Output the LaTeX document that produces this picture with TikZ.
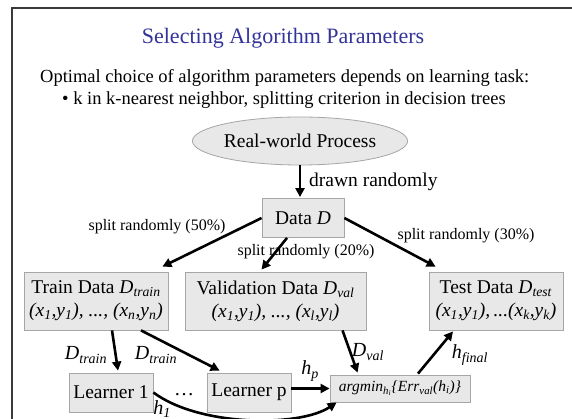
\documentclass[tikz,border=0pt]{standalone}
\usepackage{fontspec}
\setmainfont{Liberation Serif}
\usetikzlibrary{arrows.meta,calc,shapes.geometric}
\definecolor{titleblue}{HTML}{333399}
\definecolor{boxfill}{HTML}{E8E8E8}
\definecolor{boxline}{HTML}{A6A6A6}
\definecolor{frame}{HTML}{3A3A3A}

\newcommand{\lsub}[1]{\textsubscript{\textit{#1}}}

\begin{document}
\begin{tikzpicture}[x=1pt,y=-1pt,
    box/.style={draw=boxline,fill=boxfill,line width=0.8pt,inner sep=0pt,align=center,font=\fontsize{19.5}{23}\selectfont},
    lbl/.style={inner sep=0pt,font=\fontsize{16}{18}\selectfont},
    dlbl/.style={inner sep=0pt,font=\fontsize{20}{22}\selectfont},
    arr/.style={-{Triangle[length=9pt,width=9pt]},line width=2.6pt}]
  \useasboundingbox (0,0) rectangle (572,419);
  \draw[frame,line width=1.2pt] (12,440) -- (12,8) -- (600,8);
  % heading
  \node[font=\fontsize{22}{26}\selectfont,text=titleblue] (title) at (283,38) {Selecting Algorithm Parameters};
  \node[anchor=west,font=\fontsize{18.5}{22}\selectfont,inner sep=0pt] (intro) at (40,78) {Optimal choice of algorithm parameters depends on learning task:};
  \node[anchor=west,font=\fontsize{18.5}{22}\selectfont,inner sep=0pt] (bullet) at (62,100) {• k in k-nearest neighbor, splitting criterion in decision trees};
  % nodes
  \node[ellipse,draw=boxline,fill=boxfill,line width=0.8pt,minimum width=205pt,minimum height=48pt,inner sep=0pt,font=\fontsize{19.5}{23}\selectfont] (proc) at (300,141) {Real-world Process};
  \node[box,minimum width=82pt,minimum height=39pt] (data) at (303,218) {Data \textit{D}};
  \node[box,minimum width=144pt,minimum height=58pt] (train) at (96,301) {Train Data \textit{D}\lsub{train}\\\textit{(x\lsub{1},y\lsub{1}), ..., (x\lsub{n},y\lsub{n})}};
  \node[box,minimum width=181pt,minimum height=58pt] (valid) at (275.5,301) {Validation Data \textit{D}\lsub{val}\\\textit{(x\lsub{1},y\lsub{1}), ..., (x\lsub{l},y\lsub{l})}};
  \node[box,minimum width=134pt,minimum height=58pt] (test) at (496,301) {Test Data \textit{D}\lsub{test}\\\textit{(x\lsub{1},y\lsub{1}),\,...(x\lsub{k},y\lsub{k})}};
  \node[box,minimum width=84pt,minimum height=39pt] (lone) at (111,392.5) {Learner 1};
  \node[box,minimum width=84pt,minimum height=39pt] (lp) at (249,392.5) {Learner p};
  \node[dlbl] (dots) at (184,395) {\ldots};
  \node[box,minimum width=140pt,minimum height=27pt,font=\fontsize{15.5}{17}\selectfont] (amin) at (400,388.5) {\textit{argmin\lsub{h\lsub{i}}\{Err\lsub{val}(h\lsub{i})\}}};
  % labels
  \node[anchor=west,font=\fontsize{19.5}{22}\selectfont,inner sep=0pt] (drawn) at (309,182) {drawn randomly};
  \node[lbl] (sfifty) at (157,227) {split randomly (50\%)};
  \node[lbl] (stwenty) at (306,252) {split randomly (20\%)};
  \node[lbl] (sthirty) at (466,236) {split randomly (30\%)};
  \node[dlbl] (dtrone) at (86,355) {\textit{D}\lsub{train}};
  \node[dlbl] (dtrtwo) at (156,355) {\textit{D}\lsub{train}};
  \node[dlbl] (dval) at (368,352) {\textit{D}\lsub{val}};
  \node[dlbl] (hfin) at (470,355) {\textit{h}\lsub{final}};
  \node[dlbl] (hp) at (310,371) {\textit{h}\lsub{p}};
  \node[dlbl] (hone) at (162,409) {\textit{h}\lsub{1}};
  % arrows
  \draw[arr,shorten >=1pt] (proc.south) -- (proc.south |- data.north);
  \draw[arr] (data.west) -- ($(train.north east)+(-6,-5)$);
  \draw[arr] ($(data.south)+(-16,0)$) -- ($(valid.north)+(-14,-2)$);
  \draw[arr] (data.east) -- ($(test.north west)+(7,-5)$);
  \draw[arr] ($(train.south)+(16,0)$) -- ($(lone.north)+(7,-2)$);
  \draw[arr] ($(train.south)+(45,0)$) -- ($(lp.north west)+(13,-2)$);
  \draw[arr] ($(valid.south)+(67,0)$) -- ($(amin.north west)+(28,-2)$);
  \draw[arr] ($(amin.north)+(18,-1)$) -- ($(test.south)+(-43,1)$);
  \draw[arr] (lp.east |- amin.west) -- (amin.west);
  \draw[arr] (lone.east) .. controls (200,427) and (300,427) .. ($(amin.south west)+(7,0)$);
\end{tikzpicture}
\end{document}
